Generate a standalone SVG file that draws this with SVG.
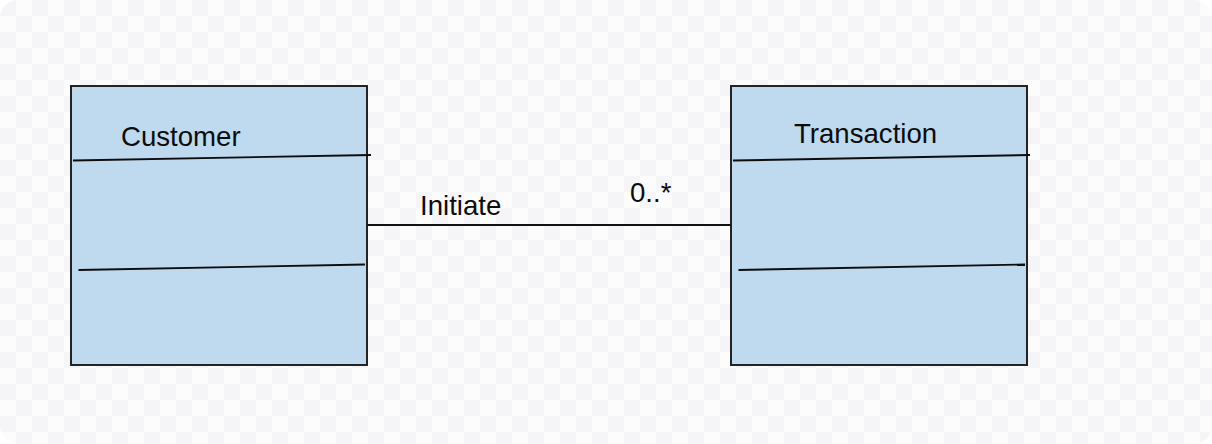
<svg xmlns="http://www.w3.org/2000/svg" width="1212" height="444" viewBox="0 0 1212 444">
  <defs>
    <pattern id="checker" x="0" y="0" width="32" height="32" patternUnits="userSpaceOnUse">
      <rect width="32" height="32" fill="#fcfcfd"/>
      <rect x="0" y="0" width="16" height="16" fill="#f5f5f7"/>
      <rect x="16" y="16" width="16" height="16" fill="#f5f5f7"/>
    </pattern>
  </defs>
  <style>
    .box { fill: #bfd9ef; stroke: #1a1a1a; stroke-width: 1.9; }
    .sep { stroke: #0d0d0d; stroke-width: 1.9; fill: none; }
    .conn { stroke: #111; stroke-width: 1.8; fill: none; }
    .lbl { font-family: "Liberation Sans", Arial, sans-serif; font-size: 27.6px; fill: #0d0d0d; }
  </style>
  <rect width="1212" height="444" fill="#ffffff"/>
  <rect width="1212" height="444" rx="18" ry="18" fill="url(#checker)"/>

  <g id="connectors">
    <line class="conn" x1="367" y1="225" x2="731" y2="225"/>
    <text class="lbl" x="420" y="214.5">Initiate</text>
    <text class="lbl" x="630" y="201.5">0..*</text>
  </g>

  <g id="customer">
    <rect class="box" x="71" y="86" width="296" height="279"/>
    <text class="lbl" x="121" y="145.5">Customer</text>
    <line class="sep" x1="73" y1="160.5" x2="371" y2="155"/>
    <line class="sep" x1="78.5" y1="270" x2="365" y2="264.5"/>
  </g>

  <g id="transaction">
    <rect class="box" x="731" y="86" width="296" height="279"/>
    <text class="lbl" x="794" y="142.5">Transaction</text>
    <line class="sep" x1="733" y1="160.5" x2="1030" y2="155"/>
    <line class="sep" x1="738.5" y1="270" x2="1025" y2="264.5"/>
  </g>
</svg>
